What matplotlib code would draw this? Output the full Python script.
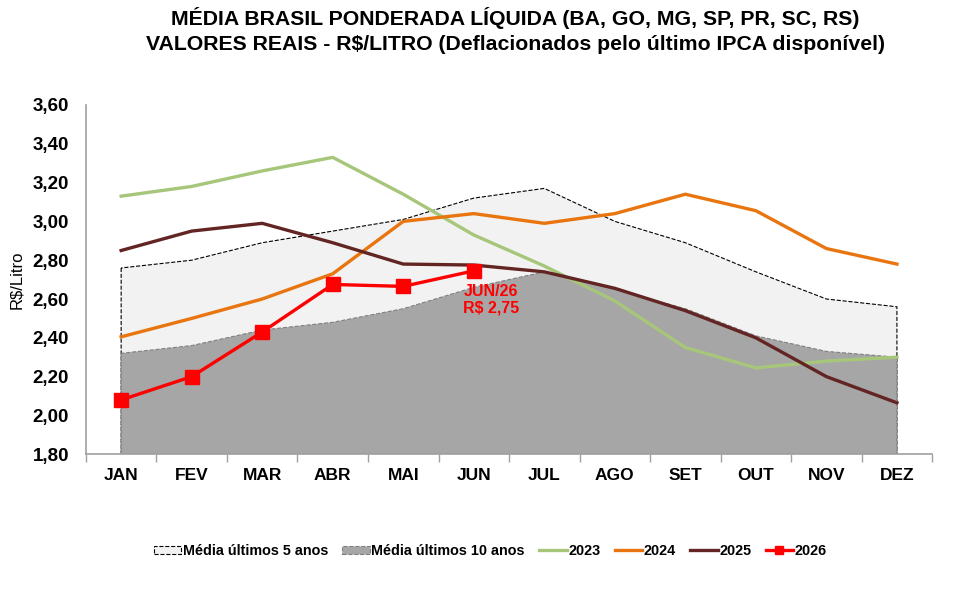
import matplotlib.pyplot as plt
import numpy as np
from matplotlib.patches import Patch
from matplotlib.lines import Line2D
from matplotlib.ticker import FuncFormatter, FixedLocator

plt.rcParams['font.family'] = ['Liberation Sans', 'DejaVu Sans']

meses = ['JAN', 'FEV', 'MAR', 'ABR', 'MAI', 'JUN', 'JUL', 'AGO', 'SET', 'OUT', 'NOV', 'DEZ']
media_5 = [2.76, 2.80, 2.89, 2.95, 3.01, 3.12, 3.17, 3.00, 2.89, 2.74, 2.60, 2.56]
media_10 = [2.32, 2.36, 2.44, 2.48, 2.55, 2.66, 2.74, 2.65, 2.55, 2.41, 2.33, 2.30]
v2023 = [3.13, 3.18, 3.26, 3.33, 3.14, 2.93, 2.77, 2.59, 2.35, 2.245, 2.28, 2.30]
v2024 = [2.405, 2.50, 2.60, 2.73, 3.00, 3.04, 2.99, 3.04, 3.14, 3.055, 2.86, 2.78]
v2025 = [2.85, 2.95, 2.99, 2.89, 2.78, 2.775, 2.74, 2.655, 2.54, 2.40, 2.20, 2.065]
v2026 = [2.08, 2.20, 2.43, 2.675, 2.665, 2.745]

x = np.arange(len(meses))
base = 1.80

fig, ax = plt.subplots(figsize=(9.65, 5.93), dpi=100)
fig.subplots_adjust(left=0.089, right=0.966, bottom=0.234, top=0.823)

ax.fill_between(x, base, media_5, facecolor='#F2F2F2', edgecolor='black',
                linestyle='--', linewidth=0.8, zorder=1)
ax.fill_between(x, base, media_10, facecolor='#A6A6A6', edgecolor='#808080',
                linestyle='--', linewidth=0.8, zorder=2)

ax.plot(x, v2023, color='#A6C67A', lw=2.4, zorder=3)
ax.plot(x, v2024, color='#E8750F', lw=2.4, zorder=3)
ax.plot(x, v2025, color='#632523', lw=2.4, zorder=4)
ax.plot(x[:len(v2026)], v2026, color='#FF0000', lw=2.4, marker='s', ms=9.5, zorder=5)

# rótulo do último valor
ax.text(5.25, 2.595, 'JUN/26\nR$ 2,75', color='#FF0000', fontsize=11.5, fontweight='bold',
        ha='center', va='center', linespacing=1.15, zorder=6)

ax.set_xlim(-0.5, 11.5)
ax.set_ylim(1.80, 3.60)
ax.set_yticks(np.arange(1.8, 3.61, 0.2))
ax.yaxis.set_major_formatter(FuncFormatter(lambda v, p: f'{v:.2f}'.replace('.', ',')))
ax.set_xticks(x)
ax.set_xticklabels(meses)
ax.xaxis.set_minor_locator(FixedLocator(np.arange(-0.5, 12, 1)))
ax.tick_params(axis='x', which='major', length=0, pad=10, labelsize=12.5)
ax.tick_params(axis='x', which='minor', length=6, color='#A0A0A0', width=1)
ax.tick_params(axis='y', length=0, pad=12, labelsize=13.5)
for lab in ax.get_xticklabels() + ax.get_yticklabels():
    lab.set_fontweight('bold')

for s in ['top', 'right']:
    ax.spines[s].set_visible(False)
for s in ['left', 'bottom']:
    ax.spines[s].set_color('#A0A0A0')
    ax.spines[s].set_linewidth(1.2)

ax.set_ylabel('R$/Litro', fontsize=12)
ax.yaxis.set_label_coords(-0.073, 0.5)

fig.suptitle('MÉDIA BRASIL PONDERADA LÍQUIDA (BA, GO, MG, SP, PR, SC, RS)\n'
             'VALORES REAIS - R$/LITRO (Deflacionados pelo último IPCA disponível)',
             x=0.534, y=0.988, fontsize=15.3, fontweight='bold', linespacing=1.42)

handles = [
    Patch(facecolor='#F2F2F2', edgecolor='black', linestyle='--', linewidth=0.8),
    Patch(facecolor='#A6A6A6', edgecolor='#808080', linestyle='--', linewidth=0.8),
    Line2D([], [], color='#A6C67A', lw=2.4),
    Line2D([], [], color='#E8750F', lw=2.4),
    Line2D([], [], color='#632523', lw=2.4),
    Line2D([], [], color='#FF0000', lw=2.4, marker='s', ms=6),
]
labels = ['Média últimos 5 anos', 'Média últimos 10 anos', '2023', '2024', '2025', '2026']
fig.legend(handles, labels, loc='center', bbox_to_anchor=(0.508, 0.071), ncol=6,
           frameon=False, handlelength=1.9, handleheight=0.45, handletextpad=0.1,
           columnspacing=1.0, prop={'weight': 'bold', 'size': 10.4})

plt.savefig('out.png', dpi=100)
